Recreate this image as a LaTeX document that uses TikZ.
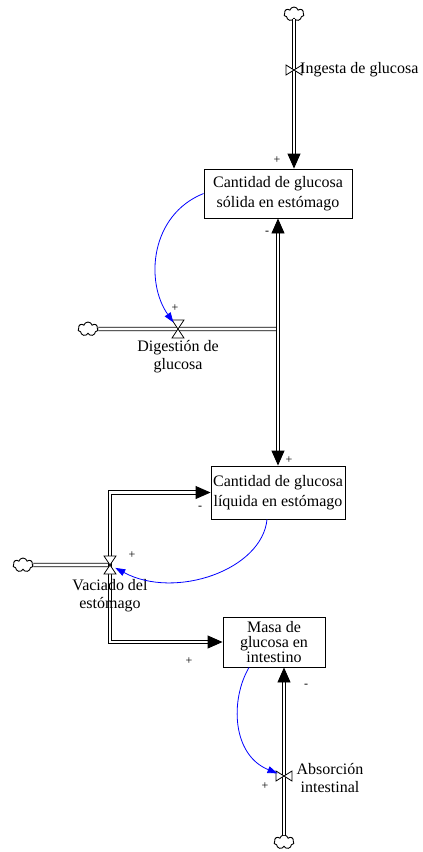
\documentclass[tikz,border=0pt]{standalone}
\usepackage{fontspec}
\setmainfont{Liberation Serif}
\usetikzlibrary{arrows.meta,shapes.symbols,positioning}

\begin{document}
\begin{tikzpicture}[x=1pt,y=-1pt,
  stock/.style={draw, line width=0.9pt, align=center, inner sep=1pt, font=\fontsize{16}{20}\selectfont},
  src/.style={draw, cloud, cloud puffs=7, line width=0.9pt, minimum width=20pt, minimum height=14pt, inner sep=0pt},
  pipe/.style={line width=0.9pt, double=white, double distance=2.6pt},
  flow/.style={pipe, -{Triangle[width=13pt,length=15pt]}},
  link/.style={blue, line width=0.8pt, -{Triangle[width=7pt,length=10pt]}},
  lbl/.style={align=center, font=\fontsize{16}{18}\selectfont, inner sep=0pt},
  sgn/.style={font=\fontsize{12}{12}\selectfont, inner sep=0pt},
  hvalve/.pic={\draw[fill=white, line width=0.8pt] (-6,-9) -- (6,-9) -- (-6,9) -- (6,9) -- cycle;},
  vvalve/.pic={\draw[fill=white, line width=0.8pt] (-8,-5) -- (-8,5) -- (8,-5) -- (8,5) -- cycle;}]
\useasboundingbox (0,0) rectangle (423,852);

% stocks
\node[stock, minimum width=148pt, minimum height=49pt] (solida) at (278,193.5) {Cantidad de glucosa\\sólida en estómago};
\node[stock, minimum width=134pt, minimum height=53pt] (liquida) at (278,492.5) {Cantidad de glucosa\\líquida en estómago};
\node[stock, minimum width=102pt, minimum height=50pt, inner sep=0pt, font=\fontsize{16}{15}\selectfont] (intestino) at (274,642) {Masa de\\glucosa en\\intestino};

% sources and valves
\node[src] (nubeIngesta) at (294,14) {};
\node[src] (nubeDigestion) at (88,329) {};
\node[src] (nubeVaciado) at (23,565) {};
\node[src] (nubeAbsorcion) at (284,842) {};
\coordinate (vIngesta) at (294,70);
\coordinate (vDigestion) at (178,329);
\coordinate (vVaciado) at (110,565);
\coordinate (vAbsorcion) at (284,776);
\coordinate (cruce) at (278,329);

% flows
\draw[flow] (nubeIngesta) -- (vIngesta) -- (vIngesta |- solida.north);
\draw[pipe] (nubeDigestion) -- (vDigestion) -- (cruce);
\draw[flow] (cruce) -- (solida);
\draw[flow] (cruce) -- (liquida);
\draw[pipe] (nubeVaciado) -- (vVaciado);
\draw[flow] (vVaciado) |- (liquida.west);
\draw[flow] (vVaciado) |- (intestino.west);
\draw[flow] (nubeAbsorcion) -- (vAbsorcion) -- (vAbsorcion |- intestino.south);

\pic at (vIngesta) {vvalve};
\pic at (vDigestion) {hvalve};
\pic at (vVaciado) {hvalve};
\pic at (vAbsorcion) {vvalve};

% valve names
\node[lbl, anchor=west] (lIngesta) at (300,70) {Ingesta de glucosa};
\node[lbl] (lDigestion) at (178,357) {Digestión de\\glucosa};
\node[lbl] (lVaciado) at (110,596) {Vaciado del\\estómago};
\node[lbl] (lAbsorcion) at (330,778) {Absorción\\intestinal};

% links
\draw[link, shorten >=8pt] (solida.west) .. controls (150,215) and (145,282) .. (vDigestion);
\draw[link, shorten >=6pt] ([xshift=-11pt]liquida.south) .. controls (262,570) and (175,600) .. (vVaciado);
\draw[link, shorten >=7pt] ([xshift=-25pt]intestino.south) .. controls (230,700) and (232,755) .. (vAbsorcion);

% polarities
\node[sgn] (s1) at (277,160) {+};
\node[sgn] (s2) at (267,233) {-};
\node[sgn] (s3) at (175,308) {+};
\node[sgn] (s4) at (289,460) {+};
\node[sgn] (s5) at (200,508) {-};
\node[sgn] (s6) at (132,555) {+};
\node[sgn] (s7) at (189,661) {+};
\node[sgn] (s8) at (306,686) {-};
\node[sgn] (s9) at (265,786) {+};
\end{tikzpicture}
\end{document}
